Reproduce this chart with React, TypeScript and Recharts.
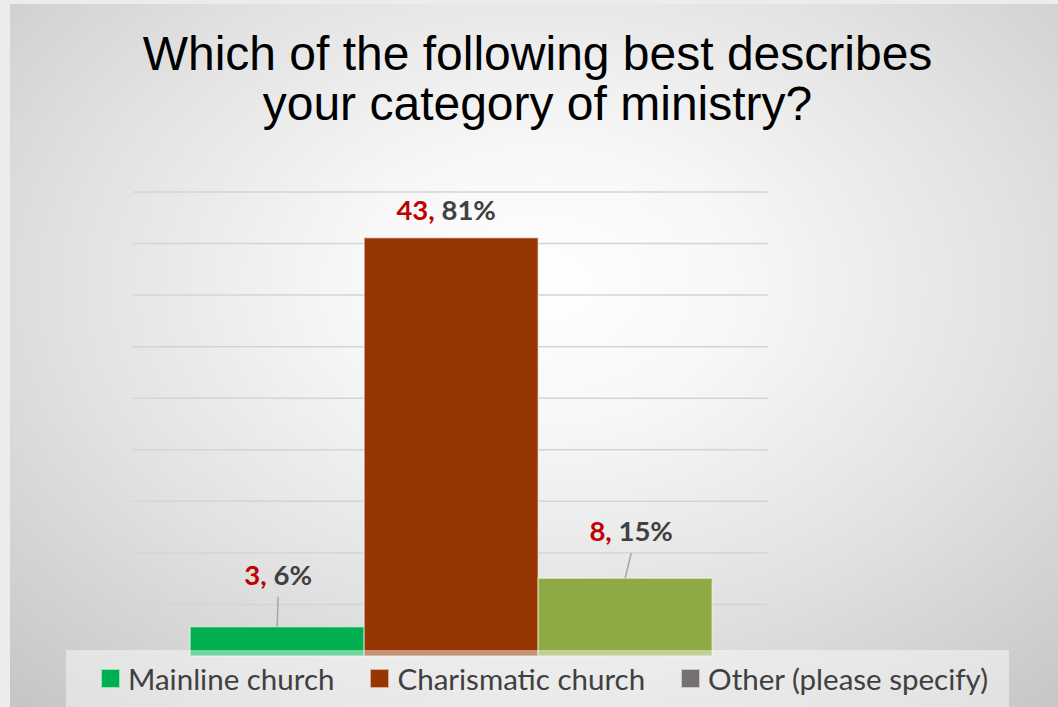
import { Bar, BarChart, CartesianGrid, LabelList, XAxis, YAxis } from "recharts";

// survey answers
const categories = ["Mainline church", "Charismatic church", "Other (please specify)"];
const seriesKeys = ["mainline", "charismatic", "other"];
const counts = [3, 43, 8];
const percents = [5.66, 81.13, 15.09];
const percentLabels = ["6%", "81%", "15%"];
const yTicks = [0, 10, 20, 30, 40, 50, 60, 70, 80, 90];

const barColors = ["#00B050", "#963600", "#8DAA44"];
const legendColors = ["#00B050", "#963600", "#767171"];

const chartData = [
  seriesKeys.reduce((row, key, i) => ({ ...row, [key]: percents[i] }), { name: "all" } as Record<string, any>),
];

// how far each label sits above its bar, and whether it gets a leader line
const labelPlacement = [
  { lift: 42, dx: 1, leader: true },
  { lift: 18, dx: -5, leader: false },
  { lift: 37, dx: 6, leader: true },
];

const calibriLike = "Lato, 'Open Sans', sans-serif";

function makeLabel(i: number) {
  return (props: any) => {
    const { x, y, width } = props;
    const cx = Number(x) + Number(width) / 2;
    const top = Number(y);
    const p = labelPlacement[i];
    const base = top - p.lift;
    return (
      <g>
        {p.leader && (
          <line x1={cx + p.dx} y1={base + 12} x2={cx} y2={top} stroke="#a6a6a6" strokeWidth={1.5} />
        )}
        <text
          x={cx + p.dx}
          y={base}
          textAnchor="middle"
          fontFamily={calibriLike}
          fontWeight={700}
          fontSize={27.5}
        >
          <tspan fill="#C00000">{counts[i]},</tspan>
          <tspan fill="#404040"> {percentLabels[i]}</tspan>
        </text>
      </g>
    );
  };
}

export default function App() {
  return (
    <div
      style={{
        position: "fixed",
        left: 0,
        top: 0,
        width: 1058,
        height: 707,
        overflow: "hidden",
        background: "#ececec",
      }}
    >
      <div
        style={{
          position: "absolute",
          left: 10,
          top: 4,
          right: 0,
          bottom: 0,
          background:
            "radial-gradient(ellipse 75% 80% at 51% 40%, #ffffff 0%, #f7f7f7 25%, #e2e2e2 60%, #c6c6c6 100%)",
        }}
      />
      <div
        style={{
          position: "absolute",
          left: 0,
          top: 29,
          width: 1075,
          textAlign: "center",
          fontFamily: "'Liberation Sans', Arial, sans-serif",
          fontSize: 48,
          lineHeight: "50px",
          color: "#000",
        }}
      >
        Which of the following best describes
        <br />
        your category of ministry?
      </div>

      <div style={{ position: "absolute", left: 0, top: 0 }}>
        <BarChart
          width={1058}
          height={707}
          data={chartData}
          margin={{ top: 192, right: 290, bottom: 51, left: 133 }}
          barCategoryGap="9%"
          barGap={0}
        >
          <CartesianGrid vertical={false} stroke="#d4d4d4" strokeWidth={1.5} />
          <XAxis dataKey="name" hide />
          <YAxis hide domain={[0, 90]} ticks={yTicks} />
          {seriesKeys.map((key, i) => (
            <Bar
              key={key}
              dataKey={key}
              name={categories[i]}
              fill={barColors[i]}
              stroke="rgba(255,255,255,0.45)"
              strokeWidth={1.5}
              isAnimationActive={false}
            >
              <LabelList dataKey={key} content={makeLabel(i)} />
            </Bar>
          ))}
        </BarChart>
      </div>

      <div
        style={{
          position: "absolute",
          left: 66,
          top: 650,
          width: 943,
          height: 57,
          background: "rgba(255,255,255,0.45)",
          display: "flex",
          alignItems: "center",
          paddingLeft: 35,
          boxSizing: "border-box",
          fontFamily: calibriLike,
          fontSize: 29.5,
          color: "#404040",
          whiteSpace: "nowrap",
        }}
      >
        {categories.map((c, i) => (
          <div key={c} style={{ display: "flex", alignItems: "center", marginRight: 36 }}>
            <span
              style={{
                width: 17,
                height: 17,
                background: legendColors[i],
                border: "1px solid rgba(255,255,255,0.6)",
                marginRight: 8,
                display: "inline-block",
              }}
            />
            <span>{c}</span>
          </div>
        ))}
      </div>
    </div>
  );
}
